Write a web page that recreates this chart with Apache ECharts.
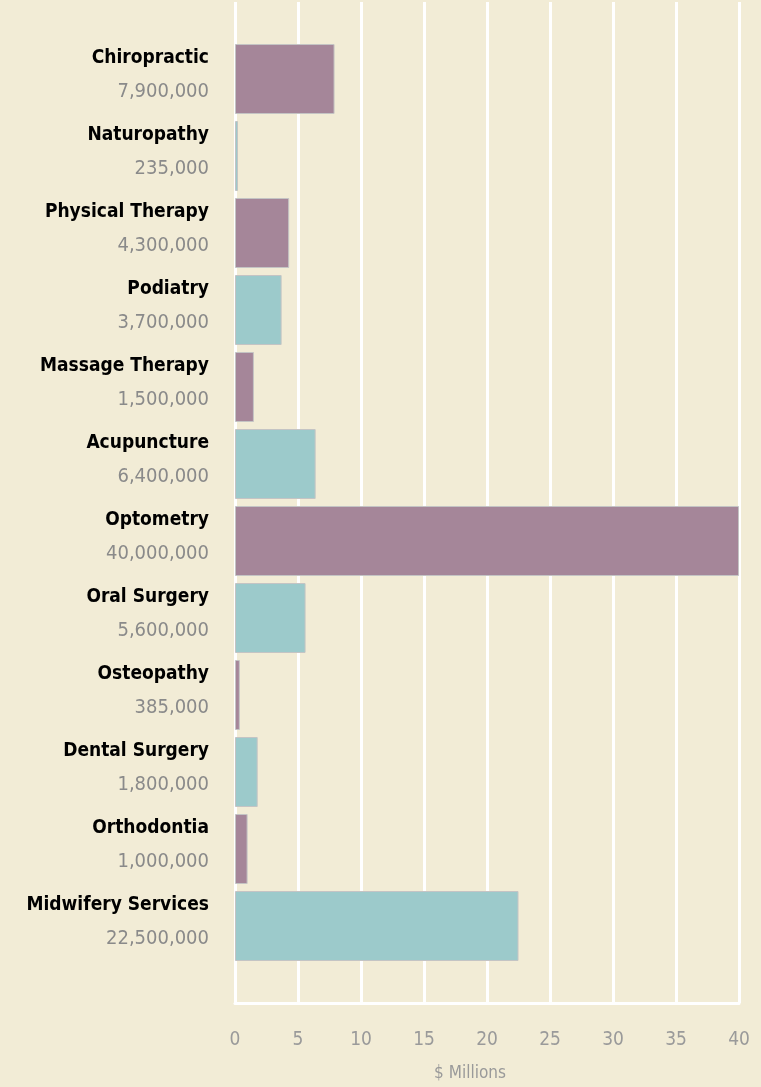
<!DOCTYPE html>
<html><head><meta charset="utf-8">
<script src="https://cdn.jsdelivr.net/npm/echarts@6/dist/echarts.min.js"></script>
<style>html,body{margin:0;padding:0;background:#f2ecd6;}#c{width:761px;height:1087px;}</style>
</head><body><div id="c"></div>
<script>
const categories = ['Chiropractic','Naturopathy','Physical Therapy','Podiatry','Massage Therapy','Acupuncture','Optometry','Oral Surgery','Osteopathy','Dental Surgery','Orthodontia','Midwifery Services'];
const amounts = [7900000,235000,4300000,3700000,1500000,6400000,40000000,5600000,385000,1800000,1000000,22500000];
const xTicks = [0,5,10,15,20,25,30,35,40];
const axisName = '$ Millions';
const purple = '#a58699', teal = '#9ccacb';

const cats = [''].concat(categories).concat(['']);
const vals = ['-'].concat(amounts.map(v => v / 1e6)).concat(['-']);
const amountByName = {};
categories.forEach((c, i) => amountByName[c] = amounts[i]);

const chart = echarts.init(document.getElementById('c'));
chart.setOption({
  backgroundColor: '#f2ecd6',
  animation: false,
  grid: {left: 235, right: 22, top: 2, bottom: 78, containLabel: false},
  xAxis: {
    type: 'value', min: 0, max: 40, interval: 5,
    name: axisName, nameLocation: 'middle', nameGap: 62,
    nameTextStyle: {color: '#9a9a9a', fontSize: 17, fontFamily: 'DejaVu Sans Condensed', padding: [0, 34, 0, 0]},
    axisLine: {show: true, lineStyle: {color: '#ffffff', width: 3}},
    axisTick: {show: false},
    axisLabel: {color: '#9a9a9a', fontSize: 19, margin: 28, fontFamily: 'DejaVu Sans Condensed',
      formatter: v => xTicks.indexOf(v) >= 0 ? String(v) : ''},
    splitLine: {show: true, lineStyle: {color: '#ffffff', width: 3}}
  },
  yAxis: {
    type: 'category', data: cats, inverse: true, boundaryGap: false,
    axisLine: {show: false}, axisTick: {show: false}, splitLine: {show: false},
    axisLabel: {
      margin: 26, align: 'right', padding: [0, 0, 8, 0],
      formatter: function (v) {
        if (!v) return '';
        return '{n|' + v + '}\n{v|' + amountByName[v].toLocaleString('en-US') + '}';
      },
      rich: {
        n: {fontFamily: 'DejaVu Sans Condensed', fontWeight: 'bold', fontSize: 19, color: '#000', lineHeight: 33, align: 'right'},
        v: {fontFamily: 'DejaVu Sans Condensed', fontSize: 20, color: '#8a8a8a', lineHeight: 33, align: 'right'}
      }
    }
  },
  series: [{
    type: 'bar', data: vals, barWidth: 70,
    itemStyle: {
      borderColor: '#c4c4c4', borderWidth: 1,
      color: p => (p.dataIndex % 2 === 1 ? purple : teal)
    }
  }]
});
</script></body></html>
